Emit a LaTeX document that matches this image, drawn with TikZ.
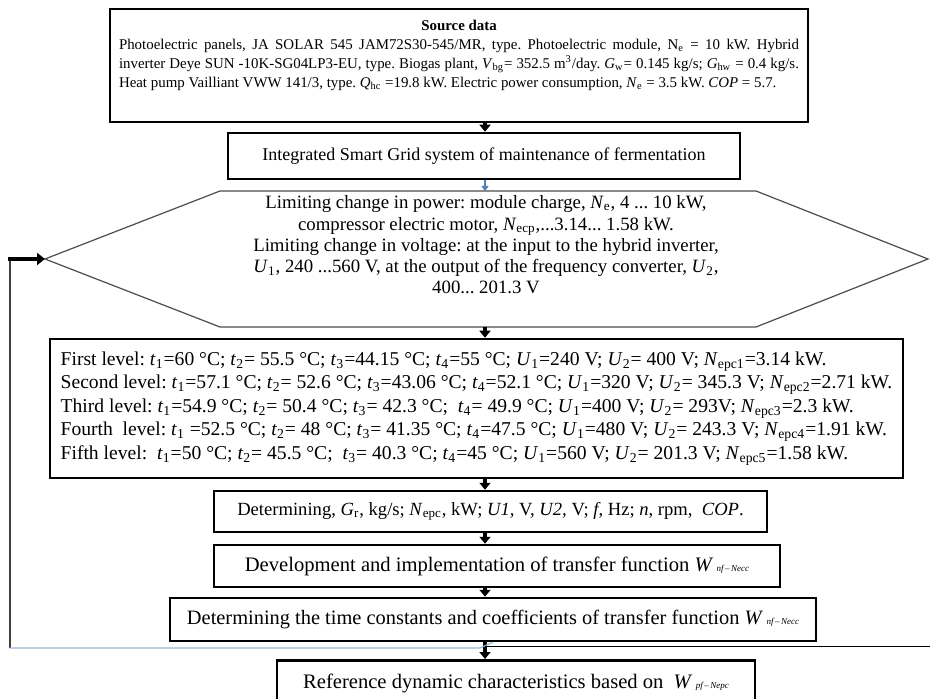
\documentclass[tikz,border=0pt]{standalone}
\usepackage{fontspec}
\setmainfont{Liberation Serif}
\usetikzlibrary{arrows.meta,positioning,calc}
\newcommand{\vr}[2]{\textit{#1}\textsubscript{#2}}
\newcommand{\wsub}[1]{\textit{W}\,{\fontsize{4.5}{5}\selectfont\textit{#1}}}
\definecolor{wordblue}{RGB}{79,129,189}
\definecolor{lineblue}{RGB}{150,185,220}
\frenchspacing

\begin{document}
\begin{tikzpicture}[x=0.5pt,y=-0.5pt,
  box/.style={draw, line width=1.25pt, inner sep=0pt, align=center},
  flow/.style={-{Triangle[length=3.5pt,width=5.5pt]}, line width=1.6pt},
  hexa/.style={draw=black!70, line width=0.6pt}]
\clip (0,0) rectangle (930,699);
\coordinate (ax) at (485,0);

% source data and system
\node[box, anchor=north, align=justify, text width=340pt, inner xsep=4.5pt, text height=10.5pt, text depth=46pt,
  font=\fontsize{7.45}{9.5}\selectfont] (1) at (459,8) {\centerline{\textbf{Source data}}
Photoelectric panels, JA SOLAR 545 JAM72S30-545/MR, type. Photoelectric module, N\textsubscript{e} = 10 kW. Hybrid\linebreak
inverter Deye SUN -10K-SG04LP3-EU, type. Biogas plant, \vr{V}{bg}= 352.5 m\textsuperscript{3}/day. \vr{G}{w}= 0.145 kg/s; \vr{G}{hw} = 0.4 kg/s.\linebreak
Heat pump Vailliant VWW 141/3, type. \vr{Q}{hc} =19.8 kW. Electric power consumption, \vr{N}{e} = 3.5 kW. \textit{COP} = 5.7.};
\node[box, font=\fontsize{9}{10}\selectfont, minimum width=256pt, minimum height=23pt] (2) at (484,156) {Integrated Smart Grid system of maintenance of fermentation};

% limits
\node[align=center, font=\fontsize{9.4}{10.6}\selectfont] (3) at (486,245) {Limiting change in power: module charge, \vr{N}{e}, 4 ... 10 kW,\\
compressor electric motor, \vr{N}{ecp},...3.14... 1.58 kW.\\
Limiting change in voltage: at the input to the hybrid inverter,\\
\vr{U}{1}, 240 ...560 V, at the output of the frequency converter, \vr{U}{2},\\
400... 201.3 V};
\coordinate (3l) at (45,259);
\coordinate (3r) at (928,259);
\draw[hexa] (3l) -- (220,191) -- (756,191) -- (3r) -- (756,327) -- (220,327) -- cycle;

% levels
\node[box, align=left, font=\fontsize{9.8}{11.75}\selectfont, minimum width=426.5pt, minimum height=69.5pt] (4) at (476.5,408.5) {First level: \vr{t}{1}=60 °C; \vr{t}{2}= 55.5 °C; \vr{t}{3}=44.15 °C; \vr{t}{4}=55 °C; \vr{U}{1}=240 V; \vr{U}{2}= 400 V; \vr{N}{epc1}=3.14 kW.\\
Second level: \vr{t}{1}=57.1 °C; \vr{t}{2}= 52.6 °C; \vr{t}{3}=43.06 °C; \vr{t}{4}=52.1 °C; \vr{U}{1}=320 V; \vr{U}{2}= 345.3 V; \vr{N}{epc2}=2.71 kW.\\
Third level: \vr{t}{1}=54.9 °C; \vr{t}{2}= 50.4 °C; \vr{t}{3}= 42.3 °C; \ \vr{t}{4}= 49.9 °C; \vr{U}{1}=400 V; \vr{U}{2}= 293V; \vr{N}{epc3}=2.3 kW.\\
Fourth \ level: \vr{t}{1} =52.5 °C; \vr{t}{2}= 48 °C; \vr{t}{3}= 41.35 °C; \vr{t}{4}=47.5 °C; \vr{U}{1}=480 V; \vr{U}{2}= 243.3 V; \vr{N}{epc4}=1.91 kW.\\
Fifth level: \ \vr{t}{1}=50 °C; \vr{t}{2}= 45.5 °C; \ \vr{t}{3}= 40.3 °C; \vr{t}{4}=45 °C; \vr{U}{1}=560 V; \vr{U}{2}= 201.3 V; \vr{N}{epc5}=1.58 kW.};

% processing steps
\node[box, font=\fontsize{9.3}{10}\selectfont, minimum width=276.5pt, minimum height=20.5pt] (5) at (490.5,511.5) {Determining, \vr{G}{r}, kg/s; \vr{N}{epc}, kW; \textit{U1,} V, \textit{U2,} V; \textit{f}, Hz; \textit{n}, rpm, \ \textit{COP}.};
\node[box, font=\fontsize{10.3}{11}\selectfont, minimum width=283pt, minimum height=21pt] (6) at (497,566) {Development and implementation of transfer function \wsub{nf\,--\,Necc}};
\node[box, font=\fontsize{10.2}{11}\selectfont, minimum width=323pt, minimum height=21.5pt] (7) at (493,619.5) {Determining the time constants and coefficients of transfer function \wsub{nf\,--\,Necc}};
\node[box, font=\fontsize{10.3}{11}\selectfont, anchor=north, minimum width=239pt, text height=14pt, text depth=10pt] (8) at (516,659) {Reference dynamic characteristics based on \ \wsub{pf\,--\,Nepc}};

% arrows
\draw[flow] (1.south -| ax) -- (2.north -| ax);
\draw[-{Triangle[length=2.5pt,width=3.5pt]}, wordblue, line width=1pt] (2.south -| ax) -- (ax |- 0,191);
\draw[flow] (ax |- 0,327) -- (4.north -| ax);
\draw[flow] (4.south -| ax) -- (5.north -| ax);
\draw[flow] (5.south -| ax) -- (6.north -| ax);
\draw[flow] (6.south -| ax) -- (7.north -| ax);
\draw[flow] (7.south -| ax) -- (8.north -| ax);

% feedback
\coordinate (fb0) at (8,259);
\coordinate (fb1) at (10,648);
\coordinate (fb2) at (480,648);
\coordinate (fb3) at (930,646);
\draw[black!75, line width=0.6pt] (fb1) -- (fb1 |- 3l);
\draw[lineblue, line width=0.6pt] (fb1) -- (fb2) -- (7.south);
\draw[black, line width=0.5pt] (fb3 -| ax) -- (fb3);
\draw[-{Triangle[length=4pt,width=6pt]}, line width=2pt] (fb0) -- (3l);
\end{tikzpicture}
\end{document}
